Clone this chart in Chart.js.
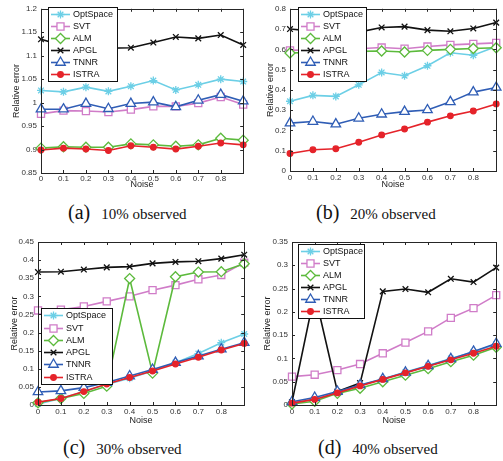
<!DOCTYPE html>
<html>
<head>
<meta charset="utf-8">
<script src="https://cdn.jsdelivr.net/npm/chart.js"></script>
<style>
body { margin: 0; background: #fff; width: 503px; height: 461px; position: relative; overflow: hidden; }
.panel { position: absolute; overflow: hidden; }
.cap { position: absolute; font-family: "Liberation Serif", "Times New Roman", serif; line-height: 20px; white-space: nowrap; color: #111; }
.cap .l { font-size: 20px; }
.cap .t { font-size: 15px; margin-left: 11px; }
</style>
</head>
<body>
<div class="panel" style="left:0;top:0;width:250px;height:195px"><canvas id="p10" width="250" height="195"></canvas></div>
<div class="panel" style="left:252px;top:0;width:251px;height:195px"><canvas id="p20" width="251" height="195"></canvas></div>
<div class="panel" style="left:0;top:228px;width:251px;height:200px"><canvas id="p30" width="251" height="200"></canvas></div>
<div class="panel" style="left:252px;top:228px;width:251px;height:200px"><canvas id="p40" width="251" height="200"></canvas></div>

<div class="cap" style="left:68px;top:202px"><span class="l">(a)</span><span class="t">10% observed</span></div>
<div class="cap" style="left:316px;top:202px"><span class="l">(b)</span><span class="t">20% observed</span></div>
<div class="cap" style="left:63px;top:437px"><span class="l">(c)</span><span class="t">30% observed</span></div>
<div class="cap" style="left:318px;top:437px"><span class="l">(d)</span><span class="t">40% observed</span></div>

<script>
var noise = [0, 0.1, 0.2, 0.3, 0.4, 0.5, 0.6, 0.7, 0.8, 0.9];
var methods = ['OptSpace', 'SVT', 'ALM', 'APGL', 'TNNR', 'ISTRA'];

// (a) 10% observed
var opt10   = [1.026, 1.023, 1.033, 1.024, 1.035, 1.047, 1.027, 1.038, 1.050, 1.045];
var svt10   = [0.976, 0.983, 0.982, 0.980, 0.985, 0.992, 0.992, 0.999, 1.012, 0.996];
var alm10   = [0.903, 0.906, 0.905, 0.905, 0.912, 0.910, 0.907, 0.910, 0.924, 0.920];
var apgl10  = [1.135, 1.121, 1.119, 1.116, 1.117, 1.128, 1.140, 1.137, 1.144, 1.123];
var tnnr10  = [0.986, 0.986, 0.998, 0.987, 0.998, 1.001, 0.991, 1.005, 1.017, 1.003];
var istra10 = [0.899, 0.903, 0.901, 0.898, 0.908, 0.905, 0.901, 0.907, 0.914, 0.910];

// (b) 20% observed
var opt20   = [0.344, 0.373, 0.368, 0.425, 0.486, 0.470, 0.519, 0.583, 0.571, 0.614];
var svt20   = [0.595, 0.598, 0.600, 0.603, 0.609, 0.603, 0.614, 0.622, 0.627, 0.632];
var alm20   = [0.582, 0.585, 0.588, 0.590, 0.592, 0.587, 0.595, 0.600, 0.604, 0.608];
var apgl20  = [0.700, 0.690, 0.688, 0.685, 0.708, 0.712, 0.695, 0.689, 0.703, 0.732];
var tnnr20  = [0.236, 0.244, 0.231, 0.260, 0.280, 0.293, 0.301, 0.341, 0.389, 0.412];
var istra20 = [0.086, 0.105, 0.110, 0.142, 0.178, 0.207, 0.241, 0.272, 0.296, 0.331];

// (c) 30% observed
var opt30   = [0.003, 0.018, 0.037, 0.057, 0.074, 0.094, 0.117, 0.142, 0.172, 0.196];
var svt30   = [0.261, 0.263, 0.272, 0.286, 0.300, 0.317, 0.331, 0.347, 0.359, 0.393];
var alm30   = [0.006, 0.018, 0.032, 0.052, 0.349, 0.088, 0.354, 0.367, 0.368, 0.390];
var apgl30  = [0.367, 0.368, 0.374, 0.380, 0.382, 0.391, 0.395, 0.397, 0.404, 0.415];
var tnnr30  = [0.036, 0.039, 0.048, 0.062, 0.080, 0.098, 0.117, 0.135, 0.154, 0.172];
var istra30 = [0.008, 0.018, 0.037, 0.058, 0.076, 0.094, 0.113, 0.132, 0.152, 0.170];

// (d) 40% observed
var opt40   = [0.005, 0.013, 0.027, 0.042, 0.056, 0.071, 0.085, 0.100, 0.114, 0.131];
var svt40   = [0.061, 0.065, 0.075, 0.088, 0.111, 0.134, 0.158, 0.187, 0.208, 0.236];
var alm40   = [0.002, 0.008, 0.025, 0.036, 0.050, 0.064, 0.078, 0.093, 0.107, 0.124];
var apgl40  = [0.006, 0.240, 0.029, 0.047, 0.244, 0.249, 0.242, 0.271, 0.264, 0.295];
var tnnr40  = [0.007, 0.016, 0.029, 0.043, 0.056, 0.070, 0.084, 0.099, 0.115, 0.132];
var istra40 = [0.004, 0.012, 0.026, 0.041, 0.055, 0.069, 0.083, 0.097, 0.111, 0.126];

// y axis ranges [min, max, step]
var yAxis10 = [0.85, 1.2, 0.05];
var yAxis20 = [0, 0.8, 0.1];
var yAxis30 = [0, 0.45, 0.05];
var yAxis40 = [0, 0.35, 0.05];

var looks = [
    { color: '#6ccfe6', fill: '#6ccfe6', shape: 'star',     r: 4   },  // OptSpace
    { color: '#d07cc8', fill: '#ffffff', shape: 'rect',     r: 5   },  // SVT
    { color: '#5cba3c', fill: '#ffffff', shape: 'rectRot',  r: 5   },  // ALM
    { color: '#111111', fill: '#111111', shape: 'crossRot', r: 4   },  // APGL
    { color: '#2f5db5', fill: '#ffffff', shape: 'triangle', r: 5.5 },  // TNNR
    { color: '#e5232a', fill: '#e5232a', shape: 'circle',   r: 2.8 }   // ISTRA
];

var sansFont = "'Liberation Sans', Arial, sans-serif";
Chart.defaults.font.family = sansFont;

function fmt(v) { return String(+(+v).toFixed(2)); }

// matlab-like box, inward ticks and legend drawn over the data
var framePlugin = {
    id: 'frame',
    afterDatasetsDraw: function(chart, args, opts) {
        var ctx = chart.ctx, a = chart.chartArea;
        var xs = chart.scales.x, ys = chart.scales.y;
        ctx.save();
        ctx.strokeStyle = '#262626';
        ctx.lineWidth = 1;
        ctx.beginPath();
        xs.ticks.forEach(function(t) {
            var p = Math.round(xs.getPixelForValue(t.value)) + 0.5;
            ctx.moveTo(p, a.bottom); ctx.lineTo(p, a.bottom - 3);
            ctx.moveTo(p, a.top); ctx.lineTo(p, a.top + 3);
        });
        ys.ticks.forEach(function(t) {
            var p = Math.round(ys.getPixelForValue(t.value)) + 0.5;
            ctx.moveTo(a.left, p); ctx.lineTo(a.left + 3, p);
            ctx.moveTo(a.right, p); ctx.lineTo(a.right - 3, p);
        });
        ctx.stroke();
        ctx.strokeRect(Math.round(a.left) + 0.5, Math.round(a.top) + 0.5,
                       Math.round(a.right - a.left), Math.round(a.bottom - a.top));

        // legend
        var L = opts.box;
        ctx.fillStyle = '#fff';
        ctx.fillRect(L.x, L.y, L.w, L.h);
        ctx.strokeStyle = '#111';
        ctx.strokeRect(L.x + 0.5, L.y + 0.5, L.w, L.h);
        var step = L.h / 6.2;
        var first = L.y + L.h / 2 - 2.5 * step;
        ctx.font = '9px ' + sansFont;
        ctx.textBaseline = 'middle';
        chart.data.datasets.forEach(function(ds, i) {
            var y = Math.round(first + i * step) + 0.5;
            var x0 = L.x + 3, x1 = L.x + 22;
            ctx.strokeStyle = ds.borderColor;
            ctx.lineWidth = ds.borderWidth;
            ctx.beginPath(); ctx.moveTo(x0, y); ctx.lineTo(x1, y); ctx.stroke();
            ctx.fillStyle = ds.pointBackgroundColor;
            ctx.strokeStyle = ds.pointBorderColor;
            ctx.lineWidth = ds.pointBorderWidth;
            Chart.helpers.drawPoint(ctx, {
                pointStyle: ds.pointStyle, radius: ds.pointRadius,
                rotation: 0, borderWidth: ds.pointBorderWidth
            }, (x0 + x1) / 2, y);
            ctx.fillStyle = '#111';
            ctx.fillText(ds.label, L.x + 25, y);
        });
        ctx.restore();
    }
};

function makeChart(id, series, yr, g) {
    var datasets = series.map(function(vals, i) {
        var lk = looks[i];
        return {
            label: methods[i],
            data: vals.map(function(v, k) { return { x: noise[k], y: v }; }),
            borderColor: lk.color,
            borderWidth: 1.6,
            pointStyle: lk.shape,
            pointRadius: lk.r,
            pointBorderColor: lk.color,
            pointBackgroundColor: lk.fill,
            pointBorderWidth: 1.3,
            tension: 0,
            clip: false,
            order: series.length - i
        };
    });
    return new Chart(document.getElementById(id), {
        type: 'line',
        data: { datasets: datasets },
        options: {
            responsive: false,
            devicePixelRatio: 1,
            animation: false,
            events: [],
            layout: { padding: { left: 0, top: g.top, right: g.right, bottom: 0 } },
            plugins: {
                legend: { display: false },
                tooltip: { enabled: false },
                frame: { box: g.legend }
            },
            scales: {
                x: {
                    type: 'linear', min: 0, max: 0.9,
                    grid: { display: false, drawTicks: false },
                    border: { display: false },
                    ticks: {
                        stepSize: 0.1, padding: g.xpad, maxRotation: 0, autoSkip: false,
                        color: '#333', font: { size: 8 },
                        callback: function(v) { return v > 0.85 ? '' : fmt(v); }
                    },
                    title: { display: true, text: 'Noise', color: '#222', font: { size: 9 },
                             padding: { top: 0, bottom: g.xtb } },
                    afterFit: function(s) { s.height = g.xh; }
                },
                y: {
                    min: yr[0], max: yr[1],
                    grid: { display: false, drawTicks: false },
                    border: { display: false },
                    ticks: { stepSize: yr[2], padding: 4, color: '#333', font: { size: 8 }, callback: fmt },
                    title: { display: true, text: 'Relative error', color: '#222', font: { size: 9 },
                             padding: { top: g.ytp, bottom: 0 } },
                    afterFit: function(s) { s.width = g.yw; }
                }
            }
        },
        plugins: [framePlugin]
    });
}

makeChart('p10', [opt10, svt10, alm10, apgl10, tnnr10, istra10], yAxis10,
    { top: 7, right: 0, yw: 41, xh: 22, xpad: 1, xtb: 4.6, ytp: 11.3, legend: { x: 48, y: 7, w: 69, h: 74 } });
makeChart('p20', [opt20, svt20, alm20, apgl20, tnnr20, istra20], yAxis20,
    { top: 6, right: 2, yw: 38, xh: 24, xpad: 2, xtb: 4.6, ytp: 13.6, legend: { x: 46, y: 7, w: 68, h: 74 } });
makeChart('p30', [opt30, svt30, alm30, apgl30, tnnr30, istra30], yAxis30,
    { top: 14, right: 5, yw: 38, xh: 23, xpad: 2, xtb: 1.9, ytp: 9.6, legend: { x: 41, y: 80, w: 71, h: 76 } });
makeChart('p40', [opt40, svt40, alm40, apgl40, tnnr40, istra40], yAxis40,
    { top: 14, right: 2, yw: 40, xh: 23, xpad: 2, xtb: 1.9, ytp: 10.6, legend: { x: 46, y: 16, w: 66, h: 74 } });
</script>
</body>
</html>
